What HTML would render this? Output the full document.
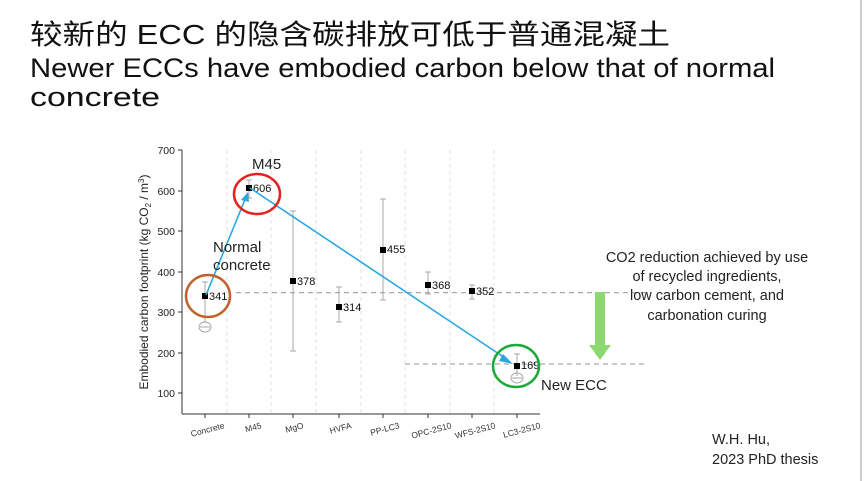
<!DOCTYPE html>
<html><head><meta charset="utf-8"><style>
body{margin:0;width:864px;height:481px;background:#fff;overflow:hidden;position:relative;font-family:"Liberation Sans","Noto Sans CJK SC",sans-serif}
</style></head><body>
<svg width="864" height="481" viewBox="0 0 864 481" style="position:absolute;left:0;top:0">
<line x1="861" y1="0" x2="861" y2="481" stroke="#ccc" stroke-width="2"/>
<text x="30" y="44" font-size="28" fill="#111" font-family="Liberation Sans,Noto Sans CJK SC,sans-serif" textLength="640" lengthAdjust="spacingAndGlyphs">较新的 ECC 的隐含碳排放可低于普通混凝土</text>
<text x="30" y="77" font-size="27" fill="#111" textLength="745" lengthAdjust="spacingAndGlyphs">Newer ECCs have embodied carbon below that of normal</text>
<text x="30" y="106" font-size="27" fill="#111" textLength="130" lengthAdjust="spacingAndGlyphs">concrete</text>
<g stroke="#e2e2e2" stroke-width="1" stroke-dasharray="4,3">
<line x1="227" y1="150" x2="227" y2="414"/><line x1="271" y1="150" x2="271" y2="414"/><line x1="316" y1="150" x2="316" y2="414"/><line x1="361" y1="150" x2="361" y2="414"/><line x1="405" y1="150" x2="405" y2="414"/><line x1="450" y1="150" x2="450" y2="414"/><line x1="494" y1="150" x2="494" y2="414"/>
</g>
<g stroke="#333" stroke-width="1">
<line x1="182" y1="150" x2="182" y2="414"/><line x1="182" y1="414" x2="540" y2="414"/>
<line x1="178" y1="150" x2="182" y2="150"/><line x1="178" y1="191" x2="182" y2="191"/><line x1="178" y1="231" x2="182" y2="231"/><line x1="178" y1="272" x2="182" y2="272"/><line x1="178" y1="312" x2="182" y2="312"/><line x1="178" y1="353" x2="182" y2="353"/><line x1="178" y1="393" x2="182" y2="393"/>
<line x1="205" y1="414" x2="205" y2="418"/><line x1="249" y1="414" x2="249" y2="418"/><line x1="293" y1="414" x2="293" y2="418"/><line x1="339" y1="414" x2="339" y2="418"/><line x1="383" y1="414" x2="383" y2="418"/><line x1="428" y1="414" x2="428" y2="418"/><line x1="472" y1="414" x2="472" y2="418"/><line x1="517" y1="414" x2="517" y2="418"/>
</g>
<g font-size="10.5" fill="#222" text-anchor="end">
<text x="175" y="154">700</text><text x="175" y="195">600</text><text x="175" y="235">500</text><text x="175" y="276">400</text><text x="175" y="316">300</text><text x="175" y="357">200</text><text x="175" y="397">100</text>
</g>
<text transform="translate(148,282) rotate(-90)" font-size="12" fill="#222" text-anchor="middle">Embodied carbon footprint (kg CO<tspan font-size="8" dy="3">2</tspan><tspan dy="-3"> / m</tspan><tspan font-size="8" dy="-4">3</tspan><tspan dy="4">)</tspan></text>
<g font-size="8.5" fill="#333" text-anchor="end">
<text transform="translate(225,428) rotate(-15)">Concrete</text>
<text transform="translate(262,428) rotate(-15)">M45</text>
<text transform="translate(304,428) rotate(-15)">MgO</text>
<text transform="translate(352,428) rotate(-15)">HVFA</text>
<text transform="translate(400,428) rotate(-15)">PP-LC3</text>
<text transform="translate(452,428) rotate(-15)">OPC-2S10</text>
<text transform="translate(496,428) rotate(-15)">WFS-2S10</text>
<text transform="translate(541,428) rotate(-15)">LC3-2S10</text>
</g>
<g stroke="#aaa" stroke-width="1.2" stroke-dasharray="5,4">
<line x1="236" y1="292.6" x2="645" y2="292.6"/><line x1="405" y1="364" x2="645" y2="364"/>
</g>
<g stroke="#aaa" stroke-width="1">
<line x1="205" y1="282" x2="205" y2="323"/><line x1="202" y1="282" x2="208" y2="282"/>
<line x1="249" y1="180" x2="249" y2="198"/><line x1="246" y1="180" x2="252" y2="180"/><line x1="246" y1="198" x2="252" y2="198"/>
<line x1="293" y1="211" x2="293" y2="351"/><line x1="290" y1="211" x2="296" y2="211"/><line x1="290" y1="351" x2="296" y2="351"/>
<line x1="339" y1="287" x2="339" y2="322"/><line x1="336" y1="287" x2="342" y2="287"/><line x1="336" y1="322" x2="342" y2="322"/>
<line x1="383" y1="199" x2="383" y2="300"/><line x1="380" y1="199" x2="386" y2="199"/><line x1="380" y1="300" x2="386" y2="300"/>
<line x1="428" y1="272" x2="428" y2="294"/><line x1="425" y1="272" x2="431" y2="272"/><line x1="425" y1="294" x2="431" y2="294"/>
<line x1="472" y1="285" x2="472" y2="299"/><line x1="469" y1="285" x2="475" y2="285"/><line x1="469" y1="299" x2="475" y2="299"/>
<line x1="517" y1="354" x2="517" y2="376"/><line x1="514" y1="354" x2="520" y2="354"/>
</g>
<g fill="none" stroke="#aaa"><ellipse cx="205" cy="327" rx="6" ry="5"/><line x1="200" y1="327" x2="210" y2="327"/><ellipse cx="517" cy="378" rx="6" ry="5"/><line x1="512" y1="378" x2="522" y2="378"/></g>
<g fill="#000">
<rect x="202" y="293" width="6" height="6"/><rect x="246" y="185" width="6" height="6"/><rect x="290" y="278" width="6" height="6"/><rect x="336" y="304" width="6" height="6"/><rect x="380" y="247" width="6" height="6"/><rect x="425" y="282" width="6" height="6"/><rect x="469" y="288" width="6" height="6"/><rect x="514" y="363" width="6" height="6"/>
</g>
<g font-size="11" fill="#111">
<text x="209" y="300">341</text><text x="253" y="192">606</text><text x="297" y="285">378</text><text x="343" y="311">314</text><text x="387" y="253">455</text><text x="432" y="289">368</text><text x="476" y="295">352</text><text x="521" y="369">169</text>
</g>
<g stroke="#29a8e0" stroke-width="1.6" fill="#29a8e0">
<line x1="206" y1="295" x2="246" y2="197"/><polygon points="248,192 241,200 249,202" stroke="none"/>
<line x1="250" y1="188" x2="508" y2="360"/><polygon points="513,364 503,354 499,361" stroke="none"/>
</g>
<ellipse cx="208" cy="296" rx="22" ry="21" fill="none" stroke="#c0632a" stroke-width="2.5"/>
<ellipse cx="257" cy="194" rx="23" ry="20" fill="none" stroke="#e52222" stroke-width="2.5"/>
<ellipse cx="516" cy="366" rx="23" ry="21" fill="none" stroke="#1aaa3a" stroke-width="2.5"/>
<g font-size="15" fill="#222">
<text x="252" y="169">M45</text>
<text x="213" y="252">Normal</text><text x="213" y="270">concrete</text>
<text x="541" y="390">New ECC</text>
</g>
<rect x="595" y="292" width="10" height="54" fill="#8ed873"/>
<polygon points="589,345 611,345 600,360" fill="#8ed873"/>
<g font-size="14.5" fill="#222" text-anchor="middle">
<text x="707" y="262">CO2 reduction achieved by use</text>
<text x="707" y="281">of recycled ingredients,</text>
<text x="707" y="300">low carbon cement, and</text>
<text x="707" y="320">carbonation curing</text>
</g>
<g font-size="14.5" fill="#222"><text x="712" y="444">W.H. Hu,</text><text x="712" y="464">2023 PhD thesis</text></g>
</svg>
</body></html>
